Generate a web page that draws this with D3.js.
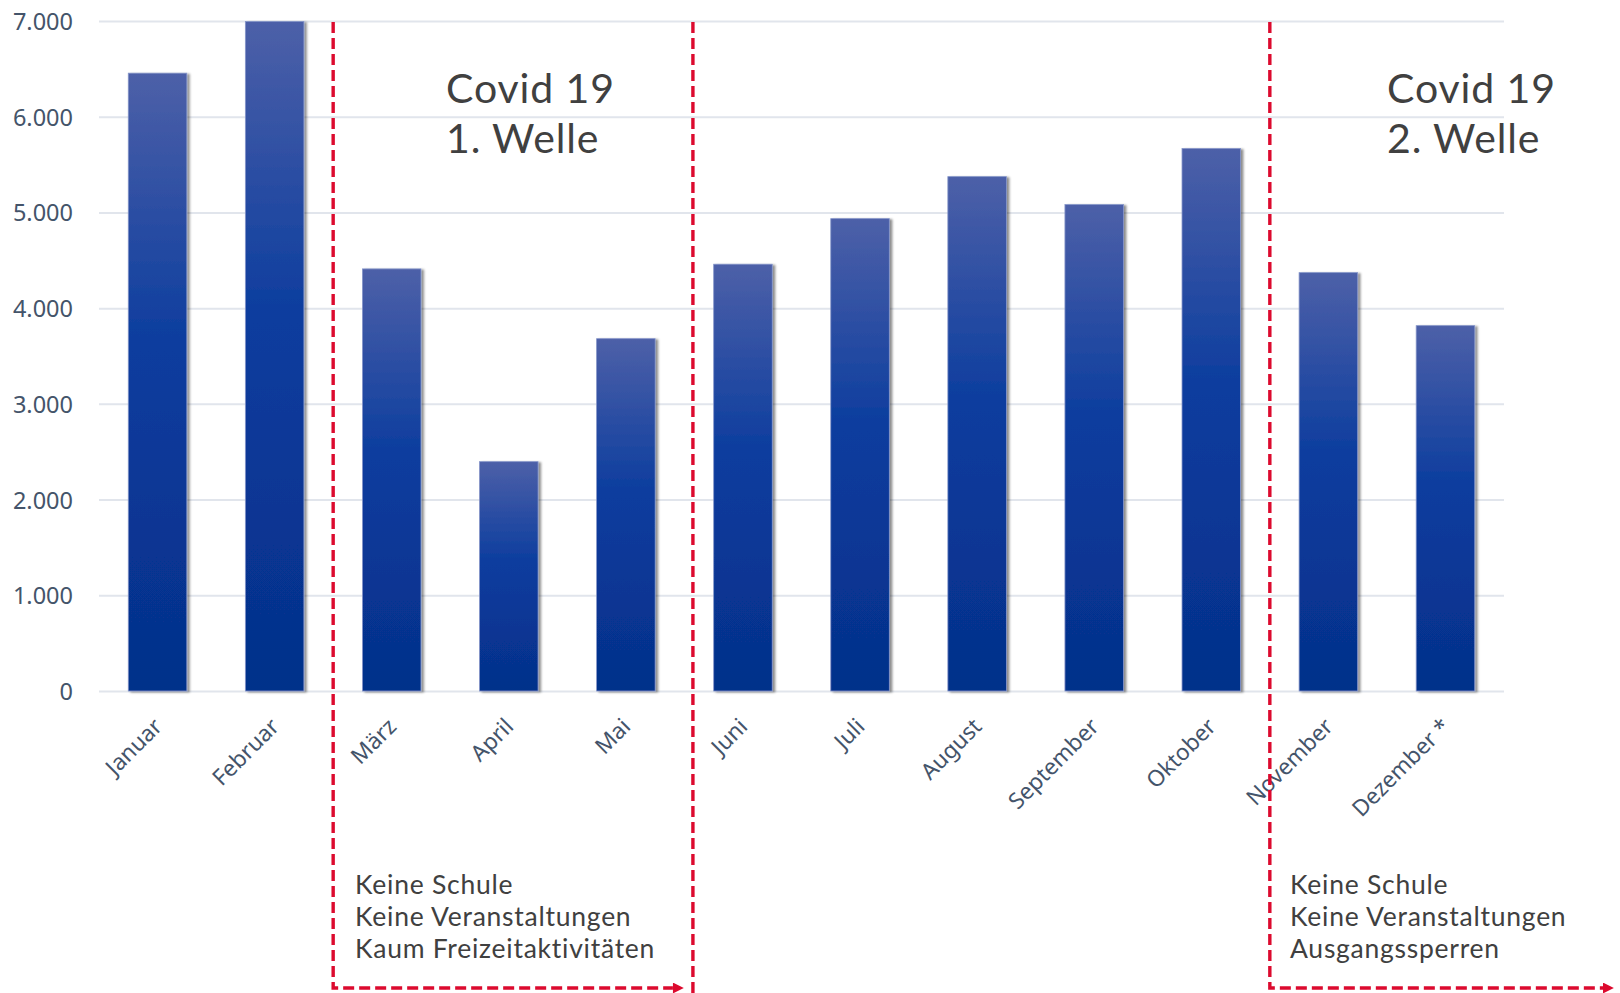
<!DOCTYPE html>
<html>
<head>
<meta charset="utf-8">
<script src="https://cdn.jsdelivr.net/npm/d3@7"></script>
<style>
  html, body { margin: 0; padding: 0; background: #ffffff; }
  svg { display: block; }
</style>
</head>
<body>
<svg id="chart" width="1620" height="993"></svg>
<script>
// ---- data ----
const months = ["Januar","Februar","März","April","Mai","Juni","Juli","August","September","Oktober","November","Dezember *"];
const values = [6455, 6995, 4410, 2396, 3681, 4459, 4935, 5374, 5082, 5667, 4371, 3817];
const yTicks = [0, 1000, 2000, 3000, 4000, 5000, 6000, 7000];
const waveTitles = [["Covid 19", "1. Welle"], ["Covid 19", "2. Welle"]];
const waveNotes = [
  ["Keine Schule", "Keine Veranstaltungen", "Kaum Freizeitaktivitäten"],
  ["Keine Schule", "Keine Veranstaltungen", "Ausgangssperren"]
];

const fmt = d3.formatLocale({decimal: ",", thousands: ".", grouping: [3], currency: ["", "€"]}).format(",.0f");

const svg = d3.select("#chart");
const FONT = "'Noto Sans', 'Open Sans', sans-serif";
const NOTE_FONT = "Lato, 'Noto Sans', sans-serif";

const x = d3.scaleBand().domain(months).range([99, 1504]).paddingInner(0.5).paddingOuter(0.25);
const y = d3.scaleLinear().domain([0, 7000]).range([691, 21]);
const step = x.step();

// defs
const defs = svg.append("defs");
const grad = defs.append("linearGradient").attr("id", "barGrad").attr("x1", 0).attr("y1", 0).attr("x2", 0).attr("y2", 1);
grad.append("stop").attr("offset", "0%").attr("stop-color", "#4d60a8");
grad.append("stop").attr("offset", "45%").attr("stop-color", "#0a3c9e");
grad.append("stop").attr("offset", "100%").attr("stop-color", "#05308a");
const flt = defs.append("filter").attr("id", "shadow").attr("x", "-10%").attr("y", "-5%").attr("width", "130%").attr("height", "115%");
flt.append("feDropShadow").attr("dx", 2.5).attr("dy", 1).attr("stdDeviation", 1.2)
  .attr("flood-color", "#000").attr("flood-opacity", 0.45);
defs.append("marker").attr("id", "arrow").attr("viewBox", "0 0 10 10")
  .attr("refX", 0).attr("refY", 5).attr("markerWidth", 4.2).attr("markerHeight", 3.2)
  .attr("markerUnits", "strokeWidth").attr("orient", "auto")
  .append("path").attr("d", "M0,0 L10,5 L0,10 Z").attr("fill", "#dc0a2e");

// gridlines
const yAxis = d3.axisLeft(y).tickValues(yTicks).tickSize(-(1504 - 99)).tickFormat(fmt);
const gy = svg.append("g").attr("transform", "translate(99,0)").call(yAxis);
gy.select(".domain").remove();
gy.selectAll(".tick line").attr("stroke", "#e1e5ec").attr("stroke-width", 2);
gy.selectAll(".tick text").attr("x", -26).attr("dy", "0.36em")
  .attr("fill", "#44546a").style("font-family", FONT).style("font-size", "23.5px");

// bars
svg.append("g").selectAll("rect").data(months).join("rect")
  .attr("x", d => x(d))
  .attr("y", (d, i) => y(values[i]))
  .attr("width", x.bandwidth())
  .attr("height", (d, i) => y(0) - y(values[i]))
  .attr("fill", "url(#barGrad)")
  .attr("stroke", "#8595c9").attr("stroke-width", 0.8)
  .attr("filter", "url(#shadow)");

// x labels
const xAxis = d3.axisBottom(x).tickSize(0);
const gx = svg.append("g").attr("transform", `translate(0,${y(0)})`).call(xAxis);
gx.select(".domain").remove();
gx.selectAll(".tick text")
  .attr("text-anchor", "end")
  .attr("transform", "translate(6,37) rotate(-45)")
  .attr("x", 0).attr("y", 0).attr("dy", 0)
  .attr("fill", "#44546a").style("font-family", FONT).style("font-size", "22.5px");

// red dashed phase lines
const red = "#dc0a2e";
const bound = (m) => x(m) - step * x.paddingInner() / 2;
const l1 = bound("März"), l2 = bound("Juni") + 8.5, l3 = bound("November");
const lines = [
  [[l1, 22], [l1, 988], [l2 - 20, 988]],
  [[l2, 22], [l2, 1000]],
  [[l3, 22], [l3, 988], [1620 - 17, 988]]
];
lines.forEach((pts) => {
  svg.append("path")
    .attr("d", d3.line()(pts))
    .attr("fill", "none").attr("stroke", red).attr("stroke-width", 3.4)
    .attr("stroke-dasharray", "11,5")
    .attr("marker-end", pts.length === 3 ? "url(#arrow)" : null);
});

// wave titles
const titleX = [446, 1387];
waveTitles.forEach((t, i) => {
  const tx = svg.append("text").attr("x", titleX[i]).attr("y", 103)
    .attr("fill", "#404040").style("font-family", NOTE_FONT).style("font-size", "41px")
    .style("letter-spacing", "0.9px");
  t.forEach((s, j) => tx.append("tspan").attr("x", titleX[i]).attr("dy", j ? 50 : 0).text(s));
});

// wave notes
const noteX = [355, 1290];
waveNotes.forEach((t, i) => {
  const tx = svg.append("text").attr("x", noteX[i]).attr("y", 894)
    .attr("fill", "#404040").style("font-family", NOTE_FONT).style("font-size", "26.5px")
    .style("letter-spacing", "0.75px");
  t.forEach((s, j) => tx.append("tspan").attr("x", noteX[i]).attr("dy", j ? 32 : 0).text(s));
});
</script>
</body>
</html>
